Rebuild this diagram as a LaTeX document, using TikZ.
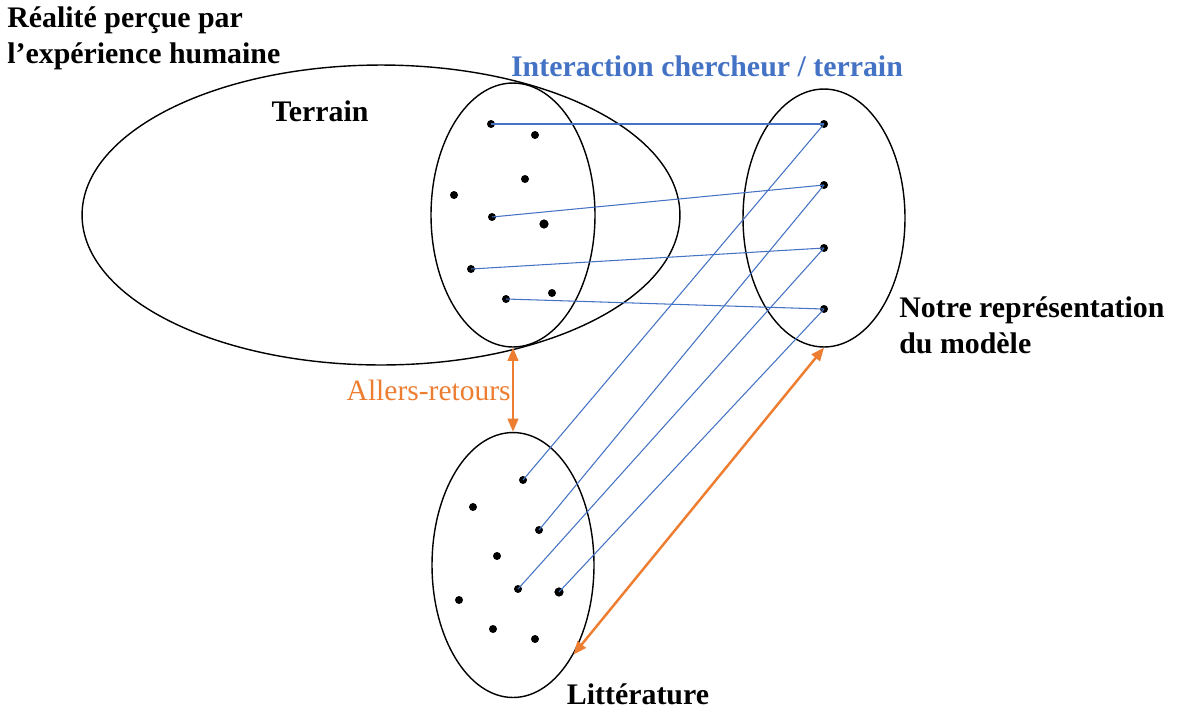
\documentclass[tikz,border=0pt]{standalone}
\usepackage{fontspec}
\setmainfont{Liberation Serif}
\usetikzlibrary{shapes.geometric,arrows.meta}
\definecolor{linkblue}{HTML}{4472C4}
\definecolor{tripcolor}{HTML}{ED7D31}
\tikzset{
  zone/.style 2 args={
    draw,
    ellipse,
    line width=0.8pt,
    inner sep=0pt,
    minimum width={#1cm},
    minimum height={#2cm},
  },
  dot/.style={
    circle,
    fill,
    inner sep=0pt,
    minimum size={#1cm},
  },
  dot/.default=0.16,
  contact/.style={
    draw=linkblue,
    line width=0.6pt,
  },
  trip/.style={
    draw=tripcolor,
    line width=1.4pt,
    {Triangle[length=7.5pt,width=6pt]}-{Triangle[length=7.5pt,width=6pt]},
  },
  title/.style={
    font=\bfseries\fontsize{17}{20.5}\selectfont,
    align=left,
    inner sep=0pt,
  }
}

\begin{document}
\begin{tikzpicture}[x=0.02cm, y=-0.02cm]
        \useasboundingbox (0,0) rectangle (1179,711);

        \node [zone={11.96}{6}] (reel) at (381,215) {};
        \node [zone={3.28}{5.28}] (terrain) at (513,215) {};
        \node [zone={3.24}{5.16}] (modele) at (824,218) {};
        \node [zone={3.24}{5.3}] (litt) at (513,565) {};

        \node [dot] (t1) at (491,124) {};
        \node [dot] (t2) at (535,135) {};
        \node [dot] (t3) at (525,179) {};
        \node [dot] (t4) at (454,195) {};
        \node [dot] (t5) at (492,217) {};
        \node [dot=0.185] (t6) at (544,224) {};
        \node [dot] (t7) at (471,269) {};
        \node [dot] (t8) at (506,299) {};
        \node [dot] (t9) at (552,293) {};

        \node [dot] (m1) at (824,124) {};
        \node [dot] (m2) at (824,185) {};
        \node [dot] (m3) at (824,248) {};
        \node [dot] (m4) at (824,309) {};

        \node [dot] (l1) at (523,480) {};
        \node [dot] (l2) at (473,507) {};
        \node [dot] (l3) at (539,530) {};
        \node [dot] (l4) at (497,556) {};
        \node [dot] (l5) at (518,589) {};
        \node [dot=0.185] (l6) at (559,592) {};
        \node [dot] (l7) at (459,600) {};
        \node [dot] (l8) at (493,629) {};
        \node [dot] (l9) at (535,639) {};

        \draw [contact] (t1.center) -- (m1.center);
        \draw [contact] (t5.center) -- (m2.center);
        \draw [contact] (t7.center) -- (m3.center);
        \draw [contact] (t8.center) -- (m4.center);
        \draw [contact] (l1.center) -- (m1.center);
        \draw [contact] (l3.center) -- (m2.center);
        \draw [contact] (l5.center) -- (m3.center);
        \draw [contact] (l6.center) -- (m4.center);

        \draw [trip] (terrain.south) -- (litt.north);
        \draw [trip] (litt.-56) -- (modele.south);

        \node [title, anchor=north west] (reelt) at (7,6) {Réalité perçue par\\l’expérience humaine};
        \node [title] (terraint) at (320,111) {Terrain};
        \node [title, text=linkblue] (intert) at (707,66) {Interaction chercheur / terrain};
        \node [title, anchor=west] (modelet) at (899,325) {Notre représentation\\du modèle};
        \node [title, font=\fontsize{16.8}{20}\selectfont, text=tripcolor, anchor=east] (allers) at (511,390) {Allers-retours};
        \node [title] (littt) at (638,694) {Littérature};
      \end{tikzpicture}
\end{document}
